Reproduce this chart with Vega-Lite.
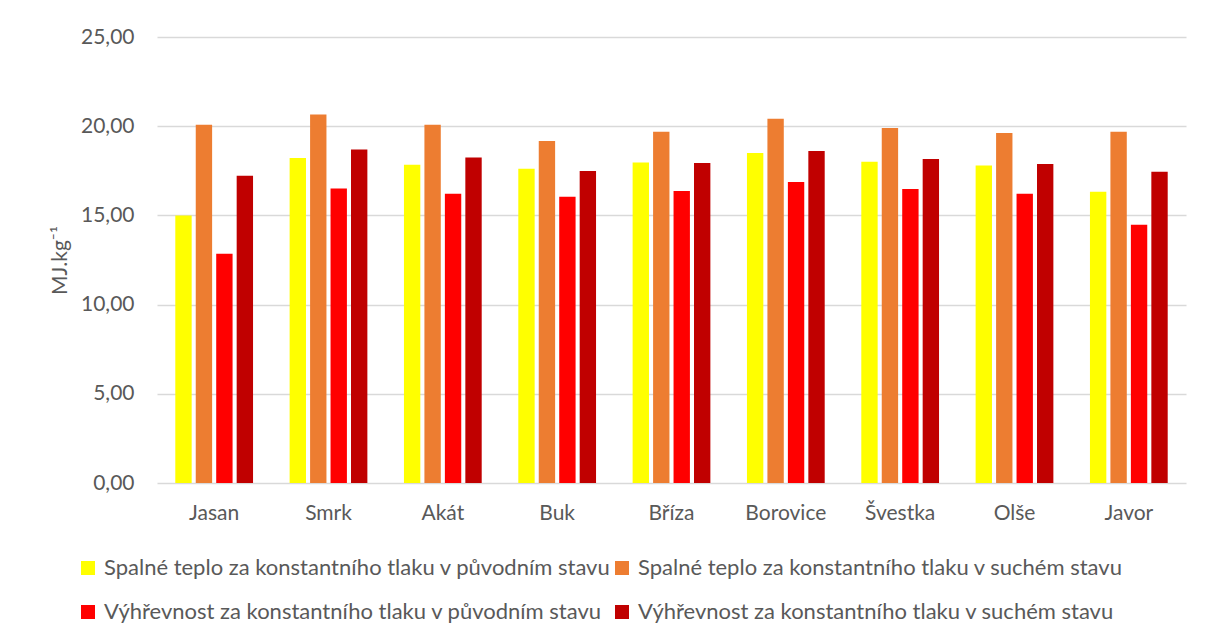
{
  "$schema": "https://vega.github.io/schema/vega-lite/v6.json",
  "width": 1029,
  "height": 446,
  "autosize": {"type": "none"},
  "padding": {"left": 157, "top": 37, "right": 28, "bottom": 161},
  "background": "white",
  "config": {
    "font": "Lato",
    "view": {"stroke": null},
    "axis": {"labelFont": "Lato", "titleFont": "Lato", "labelColor": "#595959", "titleColor": "#595959"}
  },
  "data": {
    "values": [
      {"drevo": "Jasan", "s": "Spalné teplo za konstantního tlaku v původním stavu", "v": 15.00},
      {"drevo": "Jasan", "s": "Spalné teplo za konstantního tlaku v suchém stavu", "v": 20.08},
      {"drevo": "Jasan", "s": "Výhřevnost za konstantního tlaku v původním stavu", "v": 12.85},
      {"drevo": "Jasan", "s": "Výhřevnost za konstantního tlaku v suchém stavu", "v": 17.22},
      {"drevo": "Smrk", "s": "Spalné teplo za konstantního tlaku v původním stavu", "v": 18.22},
      {"drevo": "Smrk", "s": "Spalné teplo za konstantního tlaku v suchém stavu", "v": 20.65},
      {"drevo": "Smrk", "s": "Výhřevnost za konstantního tlaku v původním stavu", "v": 16.51},
      {"drevo": "Smrk", "s": "Výhřevnost za konstantního tlaku v suchém stavu", "v": 18.70},
      {"drevo": "Akát", "s": "Spalné teplo za konstantního tlaku v původním stavu", "v": 17.84},
      {"drevo": "Akát", "s": "Spalné teplo za konstantního tlaku v suchém stavu", "v": 20.08},
      {"drevo": "Akát", "s": "Výhřevnost za konstantního tlaku v původním stavu", "v": 16.22},
      {"drevo": "Akát", "s": "Výhřevnost za konstantního tlaku v suchém stavu", "v": 18.24},
      {"drevo": "Buk", "s": "Spalné teplo za konstantního tlaku v původním stavu", "v": 17.62},
      {"drevo": "Buk", "s": "Spalné teplo za konstantního tlaku v suchém stavu", "v": 19.17},
      {"drevo": "Buk", "s": "Výhřevnost za konstantního tlaku v původním stavu", "v": 16.05},
      {"drevo": "Buk", "s": "Výhřevnost za konstantního tlaku v suchém stavu", "v": 17.49},
      {"drevo": "Bříza", "s": "Spalné teplo za konstantního tlaku v původním stavu", "v": 17.96},
      {"drevo": "Bříza", "s": "Spalné teplo za konstantního tlaku v suchém stavu", "v": 19.69},
      {"drevo": "Bříza", "s": "Výhřevnost za konstantního tlaku v původním stavu", "v": 16.37},
      {"drevo": "Bříza", "s": "Výhřevnost za konstantního tlaku v suchém stavu", "v": 17.94},
      {"drevo": "Borovice", "s": "Spalné teplo za konstantního tlaku v původním stavu", "v": 18.50},
      {"drevo": "Borovice", "s": "Spalné teplo za konstantního tlaku v suchém stavu", "v": 20.42},
      {"drevo": "Borovice", "s": "Výhřevnost za konstantního tlaku v původním stavu", "v": 16.87},
      {"drevo": "Borovice", "s": "Výhřevnost za konstantního tlaku v suchém stavu", "v": 18.61},
      {"drevo": "Švestka", "s": "Spalné teplo za konstantního tlaku v původním stavu", "v": 18.01},
      {"drevo": "Švestka", "s": "Spalné teplo za konstantního tlaku v suchém stavu", "v": 19.90},
      {"drevo": "Švestka", "s": "Výhřevnost za konstantního tlaku v původním stavu", "v": 16.48},
      {"drevo": "Švestka", "s": "Výhřevnost za konstantního tlaku v suchém stavu", "v": 18.16},
      {"drevo": "Olše", "s": "Spalné teplo za konstantního tlaku v původním stavu", "v": 17.80},
      {"drevo": "Olše", "s": "Spalné teplo za konstantního tlaku v suchém stavu", "v": 19.62},
      {"drevo": "Olše", "s": "Výhřevnost za konstantního tlaku v původním stavu", "v": 16.22},
      {"drevo": "Olše", "s": "Výhřevnost za konstantního tlaku v suchém stavu", "v": 17.88},
      {"drevo": "Javor", "s": "Spalné teplo za konstantního tlaku v původním stavu", "v": 16.33},
      {"drevo": "Javor", "s": "Spalné teplo za konstantního tlaku v suchém stavu", "v": 19.69},
      {"drevo": "Javor", "s": "Výhřevnost za konstantního tlaku v původním stavu", "v": 14.48},
      {"drevo": "Javor", "s": "Výhřevnost za konstantního tlaku v suchém stavu", "v": 17.45}
    ]
  },
  "mark": {"type": "bar"},
  "encoding": {
    "x": {
      "field": "drevo",
      "type": "nominal",
      "sort": null,
      "scale": {"paddingInner": 0.32, "paddingOuter": 0.16},
      "axis": {
        "title": null,
        "labelAngle": 0,
        "labelFontSize": 21,
        "labelPadding": 19,
        "ticks": false,
        "domain": false,
        "grid": false
      }
    },
    "xOffset": {
      "field": "s",
      "type": "nominal",
      "sort": [
        "Spalné teplo za konstantního tlaku v původním stavu",
        "Spalné teplo za konstantního tlaku v suchém stavu",
        "Výhřevnost za konstantního tlaku v původním stavu",
        "Výhřevnost za konstantního tlaku v suchém stavu"
      ],
      "scale": {"paddingInner": 0.2, "paddingOuter": 0}
    },
    "y": {
      "field": "v",
      "type": "quantitative",
      "scale": {"domain": [0, 25], "nice": false},
      "axis": {
        "title": "MJ.kg⁻¹",
        "titleFontSize": 21,
        "titleFontWeight": "normal",
        "titlePadding": 10,
        "labelFontSize": 21,
        "labelPadding": 23,
        "values": [0, 5, 10, 15, 20, 25],
        "format": ".2f",
        "labelExpr": "replace(datum.label, '.', ',')",
        "ticks": false,
        "domain": false,
        "grid": true,
        "gridColor": "#D9D9D9",
        "gridWidth": 1.3
      }
    },
    "color": {
      "field": "s",
      "type": "nominal",
      "scale": {
        "domain": [
          "Spalné teplo za konstantního tlaku v původním stavu",
          "Výhřevnost za konstantního tlaku v původním stavu",
          "Spalné teplo za konstantního tlaku v suchém stavu",
          "Výhřevnost za konstantního tlaku v suchém stavu"
        ],
        "range": ["#FFFF00", "#FF0000", "#ED7D31", "#C00000"]
      },
      "legend": {
        "title": null,
        "orient": "none",
        "legendX": -80,
        "legendY": 520,
        "columns": 2,
        "columnPadding": -2,
        "rowPadding": 22,
        "symbolType": "square",
        "symbolSize": 196,
        "symbolStrokeWidth": 0,
        "labelFontSize": 22,
        "labelColor": "#595959",
        "labelFont": "Lato",
        "labelOffset": 5,
        "labelLimit": 700
      }
    }
  }
}
